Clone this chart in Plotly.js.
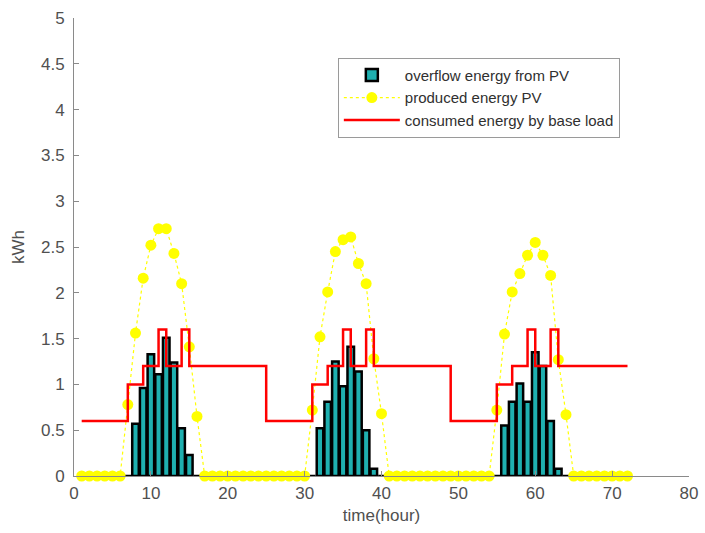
<!DOCTYPE html>
<html>
<head>
<meta charset="utf-8">
<script src="https://cdn.plot.ly/plotly-3.0.1.min.js"></script>
<style>html,body{margin:0;padding:0;background:#fff;}#chart{width:705px;height:533px;}</style>
</head>
<body>
<div id="chart"></div>
<script>
// time (hour)
const hours = [1,2,3,4,5,6,7,8,9,10,11,12,13,14,15,16,17,18,19,20,21,22,23,24,
  25,26,27,28,29,30,31,32,33,34,35,36,37,38,39,40,41,42,43,44,45,46,47,48,
  49,50,51,52,53,54,55,56,57,58,59,60,61,62,63,64,65,66,67,68,69,70,71,72];

// overflow energy from PV (kWh)
const overflow = [0,0,0,0,0,0,0,0.57,0.96,1.33,1.11,1.51,1.24,0.52,0.23,0,0,0,0,0,0,0,0,0,
  0,0,0,0,0,0,0,0.52,0.81,1.25,0.98,1.41,1.14,0.50,0.08,0,0,0,0,0,0,0,0,0,
  0,0,0,0,0,0,0,0.55,0.81,1.01,0.81,1.35,1.20,0.60,0.08,0,0,0,0,0,0,0,0,0];

// produced energy PV (kWh)
const produced = [0,0,0,0,0,0,0.78,1.56,2.16,2.52,2.70,2.70,2.43,2.10,1.41,0.65,0,0,0,0,0,0,0,0,
  0,0,0,0,0,0,0.72,1.52,2.01,2.45,2.58,2.61,2.32,2.10,1.28,0.68,0,0,0,0,0,0,0,0,
  0,0,0,0,0,0,0.72,1.55,2.01,2.21,2.41,2.55,2.41,2.19,1.27,0.67,0,0,0,0,0,0,0,0];

// consumed energy by base load (kWh)
const consumed = [0.6,0.6,0.6,0.6,0.6,0.6,1.0,1.0,1.2,1.2,1.6,1.2,1.2,1.6,1.2,1.2,1.2,1.2,1.2,1.2,1.2,1.2,1.2,1.2,
  0.6,0.6,0.6,0.6,0.6,0.6,1.0,1.0,1.2,1.2,1.6,1.2,1.2,1.6,1.2,1.2,1.2,1.2,1.2,1.2,1.2,1.2,1.2,1.2,
  0.6,0.6,0.6,0.6,0.6,0.6,1.0,1.0,1.2,1.2,1.6,1.2,1.2,1.6,1.2,1.2,1.2,1.2,1.2,1.2,1.2,1.2,1.2,1.2];

const seriesNames = ['overflow energy from PV', 'produced energy PV', 'consumed energy by base load'];
const xTitle = 'time(hour)';
const yTitle = 'kWh';

const FONT = 'Liberation Sans, Arial, sans-serif';
const TXT = '#505050';

const traces = [
  {
    type: 'bar', name: seriesNames[0], x: hours, y: overflow, width: 0.85,
    marker: {color: '#1fb0b0', line: {color: '#000000', width: 2.5}},
    cliponaxis: false
  },
  {
    type: 'scatter', mode: 'lines+markers', name: seriesNames[1], x: hours, y: produced,
    line: {color: '#ffff00', width: 1.2, dash: 'dot'},
    marker: {color: '#ffff00', size: 11, line: {width: 0}},
    cliponaxis: false
  },
  {
    type: 'scatter', mode: 'lines', name: seriesNames[2], x: hours, y: consumed,
    line: {color: '#ff0000', width: 2.5, shape: 'hv'},
    cliponaxis: false
  }
];

const layout = {
  width: 705, height: 533,
  margin: {l: 74, r: 16, t: 18, b: 57, pad: 0},
  paper_bgcolor: '#ffffff', plot_bgcolor: '#ffffff',
  font: {family: FONT, size: 17, color: TXT},
  showlegend: true,
  bargap: 0,
  legend: {
    x: 0.429, y: 0.913, xanchor: 'left', yanchor: 'top',
    bgcolor: '#ffffff', bordercolor: '#9a9a9a', borderwidth: 1,
    font: {family: FONT, size: 15, color: '#303030'},
    itemwidth: 56, tracegroupgap: 0
  },
  xaxis: {
    range: [0, 80], dtick: 10, tick0: 0,
    showgrid: false, zeroline: false,
    showline: true, linecolor: '#8a8a8a', linewidth: 1,
    ticks: 'inside', ticklen: 5, tickcolor: '#8a8a8a',
    tickfont: {family: FONT, size: 17, color: TXT},
    ticklabelstandoff: 2,
    title: {text: xTitle, font: {family: FONT, size: 17, color: TXT}, standoff: 6}
  },
  yaxis: {
    range: [0, 5], dtick: 0.5, tick0: 0,
    showgrid: false, zeroline: false,
    showline: true, linecolor: '#8a8a8a', linewidth: 1,
    ticks: 'inside', ticklen: 5, tickcolor: '#8a8a8a',
    tickfont: {family: FONT, size: 17, color: TXT},
    ticklabelstandoff: 5,
    title: {text: yTitle, font: {family: FONT, size: 17, color: TXT}, standoff: 12}
  }
};

Plotly.newPlot('chart', traces, layout, {staticPlot: true, displayModeBar: false});
</script>
</body>
</html>
